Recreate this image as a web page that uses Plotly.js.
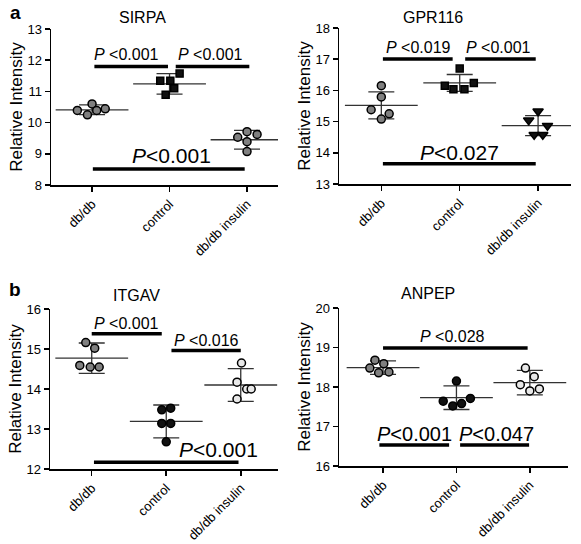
<!DOCTYPE html>
<html><head><meta charset="utf-8">
<script src="https://cdn.plot.ly/plotly-3.0.1.min.js"></script>
<style>body{margin:0;background:#fff}#chart{width:581px;height:544px}</style>
</head><body><div id="chart"></div>
<script>
// ---- data ----
const categories = ['db/db', 'control', 'db/db insulin'];

// SIRPA
const sirpaDbdb    = [10.39, 10.25, 10.60, 10.39, 10.44];
const sirpaControl = [11.34, 11.34, 11.57, 11.10, 10.89];
const sirpaInsulin = [9.53, 9.71, 9.62, 9.39, 9.07];
const sirpaMean = [10.41, 11.24, 9.45];
const sirpaSD   = [0.155, 0.33, 0.30];

// GPR116
const gprDbdb    = [16.15, 15.79, 15.38, 15.25, 15.08];
const gprControl = [16.70, 16.15, 16.04, 16.04, 16.24];
const gprInsulin = [15.33, 15.04, 14.87, 14.58, 14.58];
const gprMean = [15.52, 16.24, 14.87];
const gprSD   = [0.43, 0.27, 0.32];

// ITGAV
const itgDbdb    = [15.16, 15.02, 14.59, 14.55, 14.55];
const itgControl = [13.48, 13.52, 13.14, 13.14, 12.68];
const itgInsulin = [14.65, 14.17, 14.00, 14.00, 13.75];
const itgMean = [14.77, 13.19, 14.10];
const itgSD   = [0.38, 0.41, 0.41];

// ANPEP
const anpDbdb    = [18.68, 18.59, 18.48, 18.36, 18.38];
const anpControl = [18.15, 17.64, 17.71, 17.52, 17.58];
const anpInsulin = [18.48, 18.26, 18.06, 17.90, 17.95];
const anpMean = [18.49, 17.73, 18.11];
const anpSD   = [0.17, 0.30, 0.31];

// horizontal scatter of the dots within each group (category units)
const sirpaJit = [[-0.19,-0.06,0,0.06,0.17],[-0.12,0.01,0.13,0.06,-0.05],[-0.12,0,0.13,0,0]];
const gprJit   = [[0,0,-0.13,0.10,0],[0.0,-0.19,-0.08,0.06,0.18],[0,-0.12,0.12,-0.05,0.06]];
const itgJit   = [[-0.08,0.04,-0.16,-0.02,0.10],[-0.06,0.06,-0.06,0.06,0],[0.01,-0.05,0.08,0.14,-0.05]];
const anpJit   = [[-0.11,0.01,-0.18,-0.06,0.08],[0,-0.18,0.19,-0.05,0.07],[-0.06,0.06,-0.13,0,0.13]];

// ---- drawing ----
const FONT = 'Liberation Sans, Arial, Helvetica, sans-serif';
const GREY = '#808080', BLACK = '#111111', WHITE = '#e8e8e8';
const traces = [];
function addPanel(ax, groups, jit, mean, sd, styles) {
  const xa = 'x' + ax, ya = 'y' + ax;
  traces.push({
    type: 'scatter', mode: 'markers', xaxis: xa, yaxis: ya, hoverinfo: 'skip',
    x: [0, 1, 2], y: mean,
    marker: {symbol: 'line-ew-open', size: 52, color: '#333', line: {color: '#333', width: 1.3}},
    error_y: {type: 'data', array: sd, visible: true, color: '#333', thickness: 1.3, width: 13}
  });
  groups.forEach((vals, g) => {
    traces.push({
      type: 'scatter', mode: 'markers', xaxis: xa, yaxis: ya, hoverinfo: 'skip',
      x: vals.map((v, i) => g + jit[g][i]), y: vals,
      marker: {symbol: styles[g].symbol, size: styles[g].size || 8, color: styles[g].color,
               line: {color: '#000', width: 1.5}}
    });
  });
}
addPanel('', [sirpaDbdb, sirpaControl, sirpaInsulin], sirpaJit, sirpaMean, sirpaSD,
  [{symbol:'circle', color:GREY},{symbol:'square', color:BLACK, size:7},{symbol:'circle', color:GREY}]);
addPanel('2', [gprDbdb, gprControl, gprInsulin], gprJit, gprMean, gprSD,
  [{symbol:'circle', color:GREY},{symbol:'square', color:BLACK, size:7},{symbol:'triangle-down', color:BLACK, size:9}]);
addPanel('3', [itgDbdb, itgControl, itgInsulin], itgJit, itgMean, itgSD,
  [{symbol:'circle', color:GREY},{symbol:'circle', color:BLACK},{symbol:'circle', color:WHITE}]);
addPanel('4', [anpDbdb, anpControl, anpInsulin], anpJit, anpMean, anpSD,
  [{symbol:'circle', color:GREY},{symbol:'circle', color:BLACK},{symbol:'circle', color:WHITE}]);

function xax(domain, range, anchor) {
  return {domain, range, anchor, tickvals:[0,1,2], ticktext:categories, tickangle:-45,
    showline:true, linecolor:'#000', linewidth:1.5, ticks:'outside', ticklen:5, tickwidth:1.5,
    tickcolor:'#000', showgrid:false, zeroline:false, tickfont:{size:13, color:'#000', family:FONT}};
}
function yax(domain, range, anchor) {
  return {domain, range, anchor, dtick:1, tick0:0,
    showline:true, linecolor:'#000', linewidth:1.5, ticks:'outside', ticklen:5, tickwidth:1.5,
    tickcolor:'#000', showgrid:false, zeroline:false, tickfont:{size:13, color:'#000', family:FONT},
    title:{text:'Relative Intensity', font:{size:17, color:'#000', family:FONT}, standoff:0}};
}

// significance bars: [axis, x0, x1, y]
const bars = [
  ['', 0.03, 0.98, 11.80], ['', 1.08, 2.03, 11.80], ['', 0.01, 1.97, 8.51],
  ['2', 0.02, 0.91, 17.01], ['2', 1.07, 1.97, 17.01], ['2', 0.02, 1.97, 13.65],
  ['3', 0.0, 0.94, 15.38], ['3', 1.07, 2.0, 14.96], ['3', 0.03, 1.97, 12.17],
  ['4', 0.0, 1.97, 18.99], ['4', -0.05, 0.90, 16.53], ['4', 1.05, 1.99, 16.53]
];
// p-value labels: [axis, x, y, text, size]
const pLabels = [
  ['', 0.45, 12.17, '<i>P</i> &lt;0.001', 16], ['', 1.53, 12.17, '<i>P</i> &lt;0.001', 16], ['', 1.02, 8.96, '<i>P</i>&lt;0.001', 21],
  ['2', 0.48, 17.38, '<i>P</i> &lt;0.019', 16], ['2', 1.50, 17.38, '<i>P</i> &lt;0.001', 16], ['2', 1.0, 14.01, '<i>P</i>&lt;0.027', 21],
  ['3', 0.47, 15.65, '<i>P</i> &lt;0.001', 16], ['3', 1.54, 15.21, '<i>P</i> &lt;0.016', 16], ['3', 1.70, 12.48, '<i>P</i>&lt;0.001', 21],
  ['4', 0.94, 19.27, '<i>P</i> &lt;0.028', 16], ['4', 0.43, 16.82, '<i>P</i>&lt;0.001', 20], ['4', 1.55, 16.82, '<i>P</i>&lt;0.047', 20]
];
const shapes = bars.map(b => ({type:'line', xref:'x'+b[0], yref:'y'+b[0], x0:b[1], x1:b[2], y0:b[3], y1:b[3],
  line:{color:'#000', width:3.5}}));
const annotations = pLabels.map(p => ({xref:'x'+p[0], yref:'y'+p[0], x:p[1], y:p[2], text:p[3],
  showarrow:false, font:{size:p[4], color:'#000', family:FONT}, xanchor:'center', yanchor:'middle'}));
const titles = [['SIRPA', 142, 18], ['GPR116', 433, 18], ['ITGAV', 136, 295], ['ANPEP', 428, 293]];
titles.forEach(t => annotations.push({xref:'paper', yref:'paper', x:t[1]/581, y:1 - t[2]/544, text:t[0],
  showarrow:false, xanchor:'center', yanchor:'middle', font:{size:16, color:'#000', family:FONT}}));
[['a', 15, 12], ['b', 15, 289]].forEach(t => annotations.push({xref:'paper', yref:'paper', x:t[1]/581, y:1 - t[2]/544,
  text:'<b>' + t[0] + '</b>', showarrow:false, xanchor:'center', yanchor:'middle', font:{size:19, color:'#000', family:FONT}}));

const layout = {
  width:581, height:544, margin:{l:0, r:0, t:0, b:0}, showlegend:false,
  paper_bgcolor:'#fff', plot_bgcolor:'#fff', font:{family:FONT, color:'#000'},
  xaxis:  xax([51/581, 278/581], [-0.53, 2.40], 'y'),
  yaxis:  yax([1-185/544, 1-29/544], [8, 13], 'x'),
  xaxis2: xax([339/581, 571/581], [-0.54, 2.42], 'y2'),
  yaxis2: yax([1-184/544, 1-28/544], [13, 18], 'x2'),
  xaxis3: xax([50/581, 278/581], [-0.56, 2.50], 'y3'),
  yaxis3: yax([1-469/544, 1-309/544], [12, 16], 'x3'),
  xaxis4: xax([339/581, 568/581], [-0.60, 2.52], 'y4'),
  yaxis4: yax([1-466/544, 1-308/544], [16, 20], 'x4'),
  shapes, annotations
};
Plotly.newPlot('chart', traces, layout, {staticPlot:true});
</script></body></html>
